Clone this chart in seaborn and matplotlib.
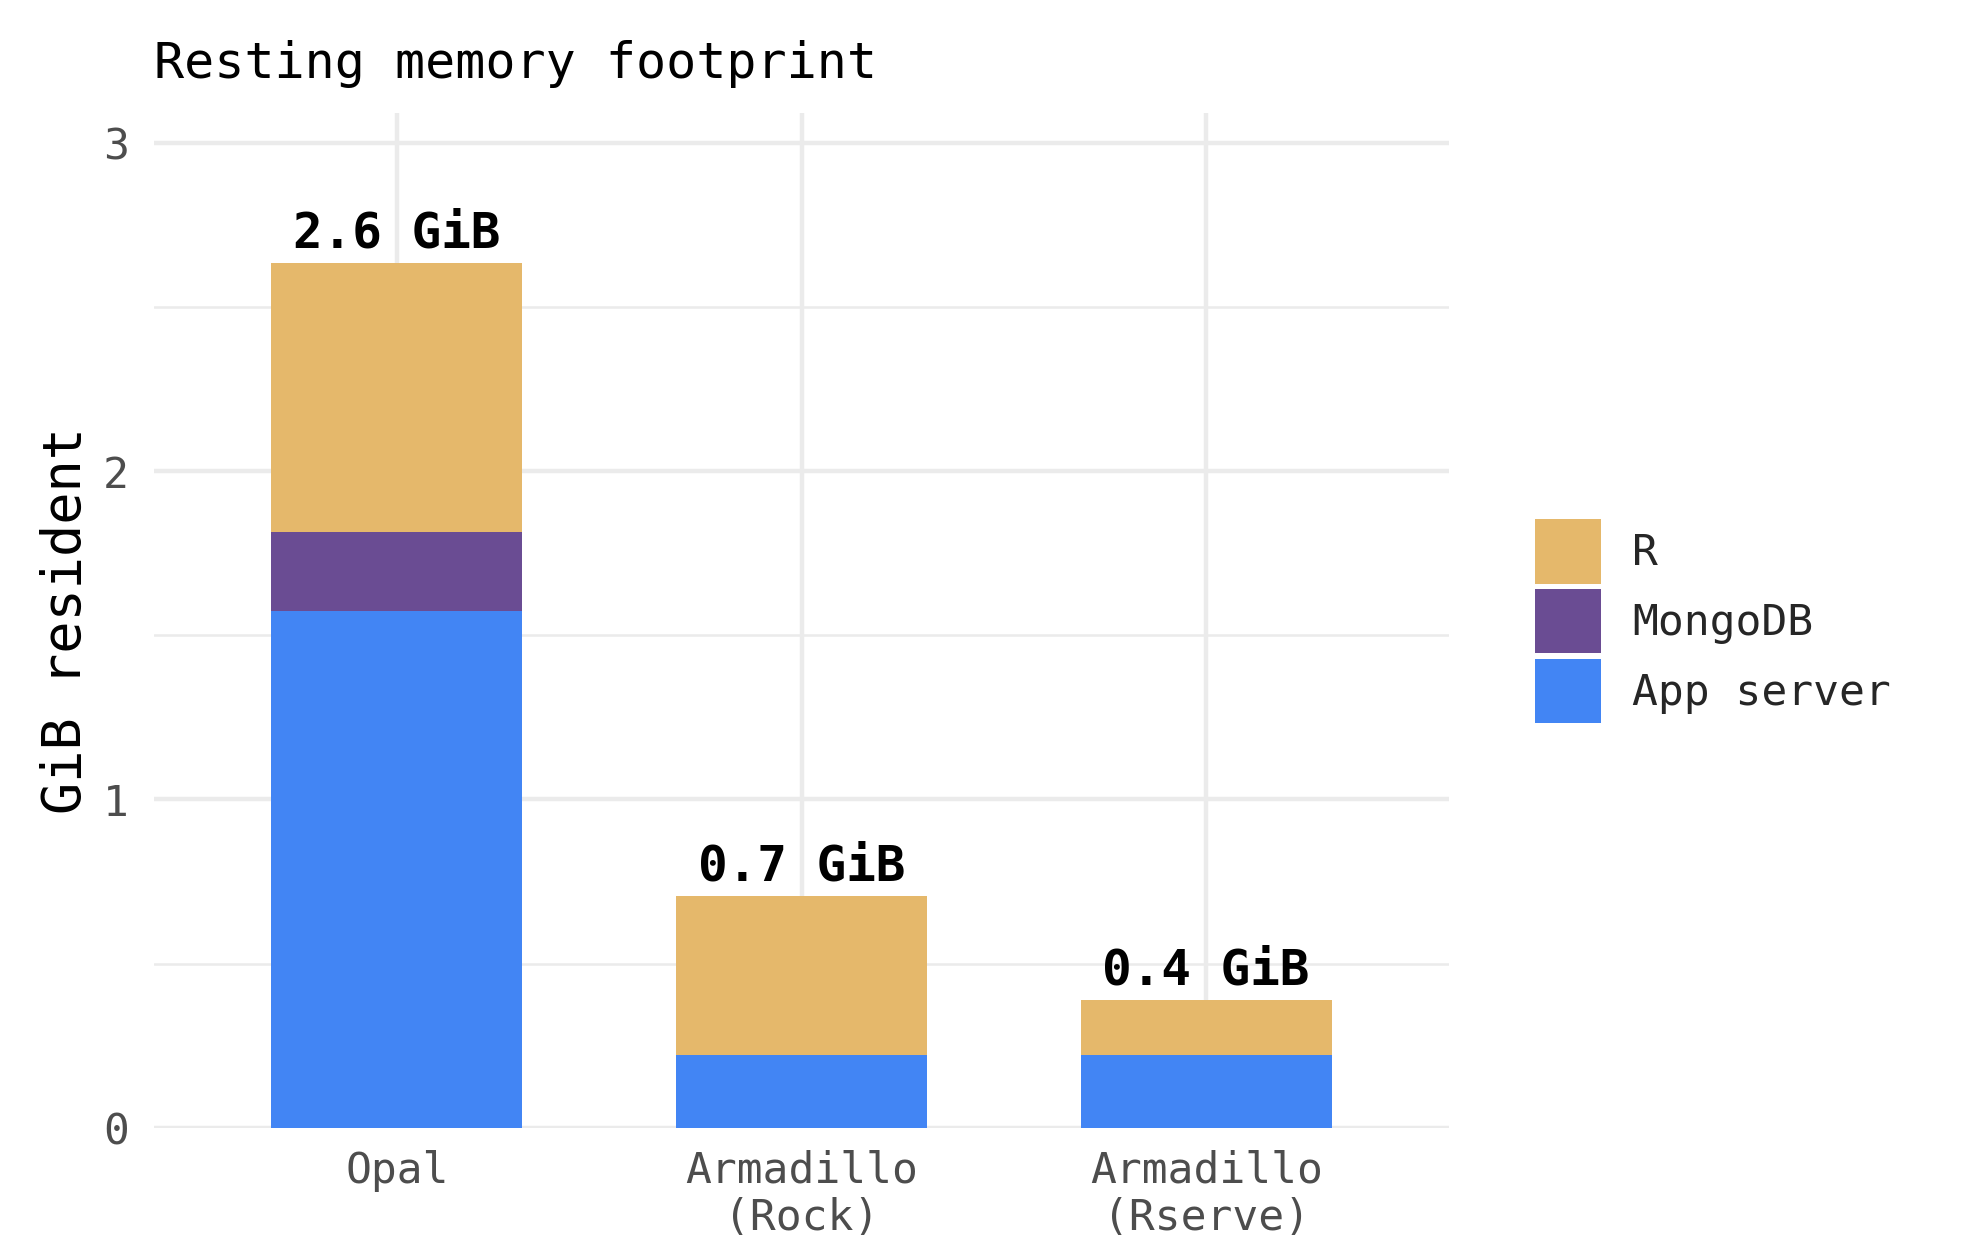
import matplotlib
matplotlib.use("Agg")
import matplotlib.pyplot as plt
import seaborn as sns
import pandas as pd
import numpy as np
from matplotlib.patches import Patch

# ---- data ----
categories = ["Opal", "Armadillo\n(Rock)", "Armadillo\n(Rserve)"]
app_server = [1.575, 0.222, 0.222]
mongodb = [0.24, 0.0, 0.0]
r_mem = [0.82, 0.483, 0.168]
total_labels = ["2.6 GiB", "0.7 GiB", "0.4 GiB"]
series_names = ["R", "MongoDB", "App server"]
series_colors = ["#E5B86B", "#6A4C93", "#4285F4"]

sns.set_theme(style="white")
plt.rcParams['font.family'] = ['DejaVu Sans Mono', 'DejaVu Sans']

fig = plt.figure(figsize=(19.8, 12.6), dpi=100)
ax = fig.add_axes([0.0778, 0.105, 0.654, 0.805])

app = np.array(app_server)
mon = np.array(mongodb)
rr = np.array(r_mem)
df = pd.DataFrame({
    "cat": categories,
    "top": app + mon + rr,
    "mid": app + mon,
    "bot": app,
})

for col, color in zip(["top", "mid", "bot"], series_colors):
    sns.barplot(data=df, x="cat", y=col, color=color, saturation=1,
                width=0.62, ax=ax, zorder=3, linewidth=0)

for i, (t, lab) in enumerate(zip(df["top"], total_labels)):
    ax.annotate(lab, (i, t), xytext=(0, 4), textcoords="offset points",
                ha="center", va="bottom", fontsize=35.5, fontweight="bold",
                color="black", zorder=5)

ax.set_xlim(-0.6, 2.6)
ax.set_ylim(0, 3.09)
ax.set_yticks([0, 1, 2, 3])
ax.set_yticks([0.5, 1.5, 2.5], minor=True)
ax.grid(True, which="major", axis="both", color="#EBEBEB", linewidth=3.2, zorder=0)
ax.grid(True, which="minor", axis="y", color="#EBEBEB", linewidth=1.8, zorder=0)
ax.set_axisbelow(True)
for s in ax.spines.values():
    s.set_visible(False)

ax.tick_params(axis="both", which="both", length=0)
ax.tick_params(axis="y", pad=18, labelsize=31, labelcolor="#4D4D4D")
ax.tick_params(axis="x", pad=16, labelsize=31, labelcolor="#4D4D4D")
for lbl in ax.get_xticklabels():
    lbl.set_linespacing(1.15)
    lbl.set_va("top")

ax.set_xlabel("")
ax.set_ylabel("GiB resident", fontsize=38.5, color="black", labelpad=8)

fig.text(0.0778, 0.949, "Resting memory footprint", fontsize=36,
         ha="left", va="center", color="black")

handles = [Patch(facecolor=c, edgecolor="none", label=n)
           for n, c in zip(series_names, series_colors)]
fig.legend(handles=handles, loc="center left", bbox_to_anchor=(0.775, 0.507),
           frameon=False, fontsize=31, handlelength=1.55, handleheight=1.93,
           labelspacing=0.12, handletextpad=0.72, borderpad=0, borderaxespad=0)

fig.savefig("out.png", dpi=100, facecolor="white")
